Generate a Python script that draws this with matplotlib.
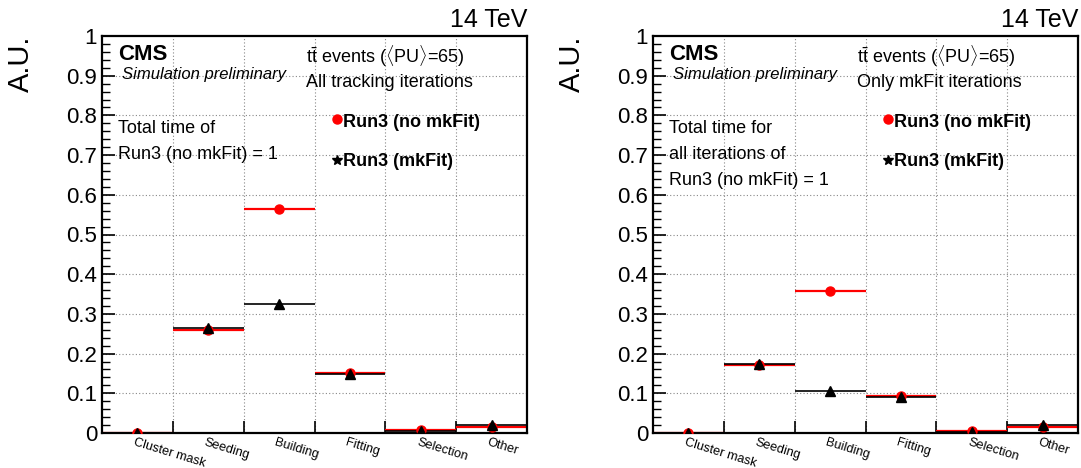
import numpy as np
import matplotlib
matplotlib.use('Agg')
import matplotlib.pyplot as plt

plt.rcParams['font.family'] = ['Liberation Sans', 'DejaVu Sans']
plt.rcParams['mathtext.fontset'] = 'custom'
plt.rcParams['mathtext.rm'] = 'Liberation Sans'
plt.rcParams['mathtext.it'] = 'Liberation Sans:italic'
plt.rcParams['mathtext.bf'] = 'Liberation Sans:bold'

# timing fractions per step, normalised to total Run3 (no mkFit) time
categories = ['Cluster mask', 'Seeding', 'Building', 'Fitting', 'Selection', 'Other']
all_nomkfit = [0.0, 0.259, 0.565, 0.151, 0.008, 0.016]
all_mkfit = [0.0, 0.265, 0.324, 0.149, 0.006, 0.020]
only_nomkfit = [0.0, 0.171, 0.358, 0.093, 0.004, 0.014]
only_mkfit = [0.0, 0.174, 0.105, 0.091, 0.003, 0.019]

yticks = np.arange(0, 1.01, 0.1)
ylabels = ['0', '0.1', '0.2', '0.3', '0.4', '0.5', '0.6', '0.7', '0.8', '0.9', '1']

panels = [
    (all_nomkfit, all_mkfit, 'All tracking iterations',
     ['Total time of', 'Run3 (no mkFit) = 1']),
    (only_nomkfit, only_mkfit, 'Only mkFit iterations',
     ['Total time for', 'all iterations of', 'Run3 (no mkFit) = 1']),
]

fig = plt.figure(figsize=(10.81, 4.68), dpi=100)
lefts = [102 / 1081, 653 / 1081]
W = 425 / 1081
B = 35 / 468
H = 397 / 468

grid_kw = dict(color='#888888', lw=0.8, ls=(0, (1, 2)), zorder=0)

for left, (red, black, subtitle, note) in zip(lefts, panels):
    ax = fig.add_axes([left, B, W, H])
    n = len(categories)
    edges = np.arange(n + 1)
    centers = edges[:-1] + 0.5

    ax.set_xlim(0, n)
    ax.set_ylim(0, 1)

    for x in edges[1:-1]:
        ax.axvline(x, **grid_kw)
    for y in yticks[1:-1]:
        ax.axhline(y, **grid_kw)

    ax.hlines(red, edges[:-1], edges[1:], color='red', lw=1.6, zorder=2)
    ax.plot(centers, red, 'o', color='red', ms=6.5, zorder=3)
    ax.hlines(black, edges[:-1], edges[1:], color='black', lw=1.2, zorder=2.5)
    ax.plot(centers, black, '^', color='black', ms=6.5, zorder=4)

    ax.set_yticks(yticks)
    ax.set_yticklabels(ylabels, fontsize=16)
    ax.set_yticks(np.arange(0, 1.001, 0.02), minor=True)
    ax.tick_params(axis='y', which='major', direction='in', length=9, width=1.2, pad=3.5)
    ax.tick_params(axis='y', which='minor', direction='in', length=5.5, width=1.0)

    ax.set_xticks(edges[1:-1])
    ax.set_xticklabels([])
    ax.tick_params(axis='x', which='major', direction='in', length=9, width=1.2)
    for c, lab in zip(centers, categories):
        ax.text(c - 0.03, -0.009, lab, rotation=-17, ha='left', va='top',
                rotation_mode='anchor', fontsize=9.2, transform=ax.get_xaxis_transform())

    for s in ax.spines.values():
        s.set_linewidth(1.6)

    ax.text(-0.19, 1.0, 'A.U.', rotation=90, ha='center', va='top',
            fontsize=21, transform=ax.transAxes)
    ax.text(1.0, 1.023, '14 TeV', ha='right', va='baseline', fontsize=18,
            transform=ax.transAxes)

    ax.text(0.038, 0.94, 'CMS', fontsize=16, fontweight='bold', transform=ax.transAxes)
    ax.text(0.046, 0.892, 'Simulation preliminary', fontsize=12, style='italic',
            transform=ax.transAxes)
    ax.text(0.481, 0.932, r't$\bar{\mathrm{t}}$ events ($\langle$PU$\rangle$=65)',
            fontsize=13, transform=ax.transAxes)
    ax.text(0.481, 0.872, subtitle, fontsize=13, transform=ax.transAxes)

    for i, line in enumerate(note):
        ax.text(0.038, 0.756 - i * 0.066, line, fontsize=13, transform=ax.transAxes)

    ax.plot([0.553], [0.792], 'o', color='red', ms=6.5, transform=ax.transAxes, clip_on=False)
    ax.text(0.567, 0.783, 'Run3 (no mkFit)', fontsize=13, fontweight='bold',
            va='center', transform=ax.transAxes)
    ax.plot([0.553], [0.688], '*', color='black', ms=7, transform=ax.transAxes, clip_on=False)
    ax.text(0.567, 0.685, 'Run3 (mkFit)', fontsize=13, fontweight='bold',
            va='center', transform=ax.transAxes)

fig.savefig('out.png', dpi=100)
